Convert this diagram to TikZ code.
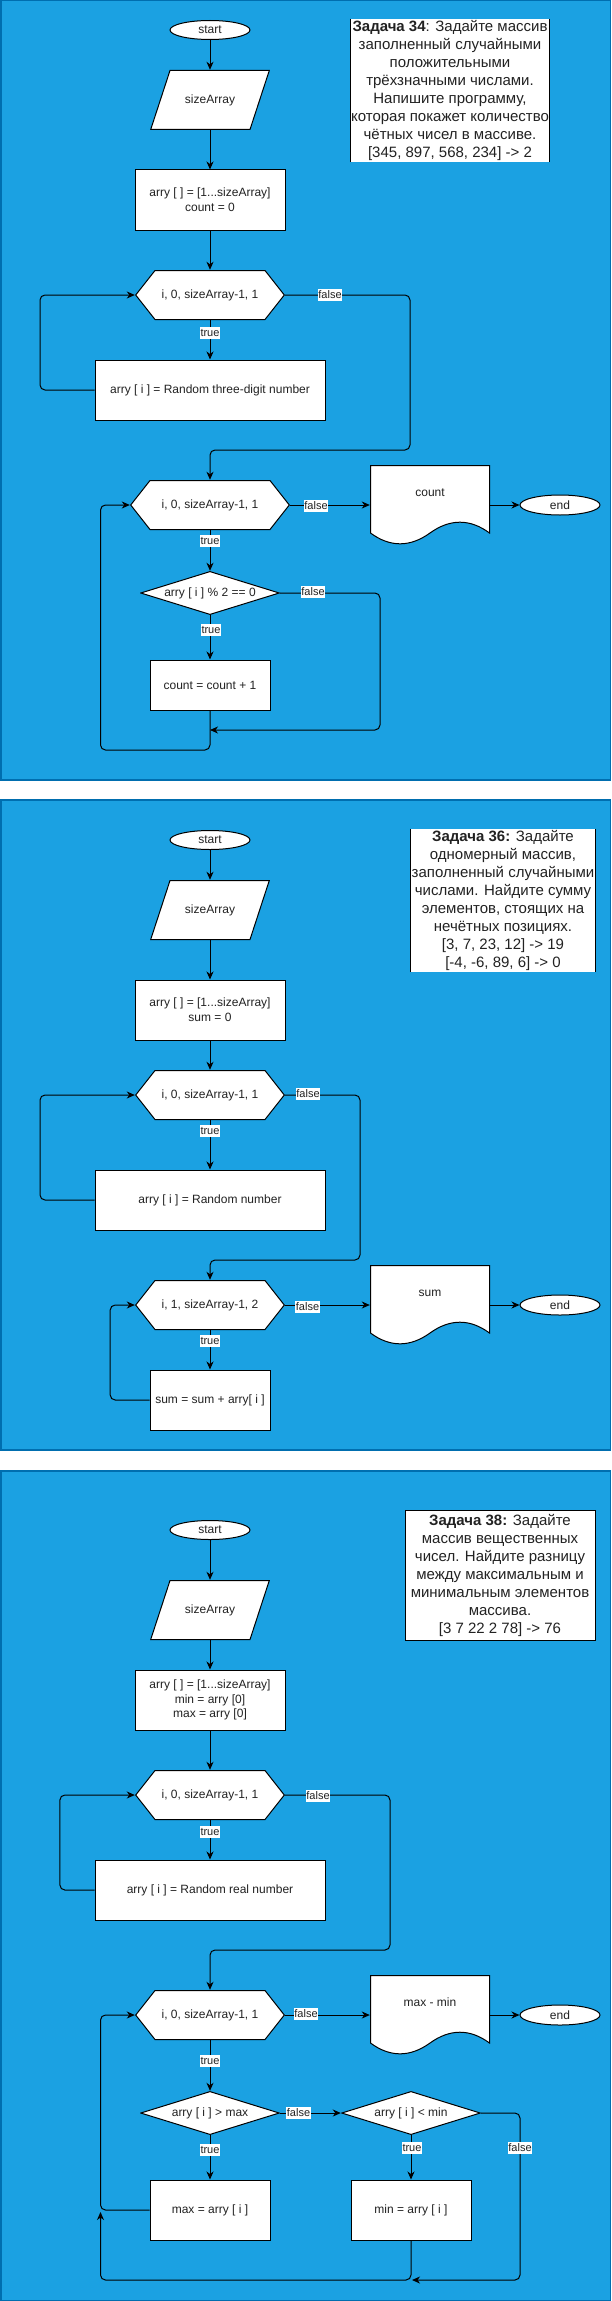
\documentclass[tikz,border=0pt]{standalone}
\usepackage{fontspec}
\setmainfont{Liberation Sans}
\usetikzlibrary{shapes.geometric,arrows.meta}
\definecolor{panelfill}{HTML}{1BA1E2}
\definecolor{panelline}{HTML}{006EAF}
\definecolor{txt}{HTML}{222222}
\newcommand\ppbb{path picture bounding box}
\tikzset{
 base/.style={text=txt, font=\fontsize{12}{15}\selectfont, align=center, inner sep=0pt},
 proc/.style={base, draw=black, fill=white, line width=1pt},
 term/.style={base, ellipse, draw=black, fill=white, line width=1pt, minimum width=80pt, minimum height=19pt},
 shp/.style={draw=black, fill=white, line width=1pt},
 hexa/.style={base, fill=panelfill, minimum height=50pt, path picture={
   \filldraw[shp] ([xshift=0.7pt]\ppbb.west) -- ([xshift=20pt,yshift=-0.5pt]\ppbb.north west)
     -- ([xshift=-20pt,yshift=-0.5pt]\ppbb.north east) -- ([xshift=-0.7pt]\ppbb.east)
     -- ([xshift=-20pt,yshift=0.5pt]\ppbb.south east) -- ([xshift=20pt,yshift=0.5pt]\ppbb.south west) -- cycle;}},
 para/.style={base, fill=panelfill, minimum width=120pt, minimum height=60pt, path picture={
   \filldraw[shp] ([xshift=20pt,yshift=-0.5pt]\ppbb.north west) -- ([xshift=-0.7pt,yshift=-0.5pt]\ppbb.north east)
     -- ([xshift=-20pt,yshift=0.5pt]\ppbb.south east) -- ([xshift=0.7pt,yshift=0.5pt]\ppbb.south west) -- cycle;}},
 dia/.style={base, fill=panelfill, minimum width=140pt, minimum height=44pt, path picture={
   \filldraw[shp] ([xshift=0.8pt]\ppbb.west) -- ([yshift=-0.6pt]\ppbb.north)
     -- ([xshift=-0.8pt]\ppbb.east) -- ([yshift=0.6pt]\ppbb.south) -- cycle;}},
 doc/.style={base, fill=panelfill, minimum width=120pt, minimum height=80pt, text height=9pt, text depth=27pt, path picture={
   \filldraw[shp] ([xshift=0.5pt,yshift=-0.5pt]\ppbb.north west) -- ([xshift=-0.5pt,yshift=-0.5pt]\ppbb.north east)
     -- ([xshift=119.5pt,yshift=-68pt]\ppbb.north west)
     .. controls ([xshift=100pt,yshift=-53.6pt]\ppbb.north west) and ([xshift=80pt,yshift=-53.6pt]\ppbb.north west)
     .. ([xshift=60pt,yshift=-68pt]\ppbb.north west)
     .. controls ([xshift=40pt,yshift=-82.4pt]\ppbb.north west) and ([xshift=20pt,yshift=-82.4pt]\ppbb.north west)
     .. ([xshift=0.5pt,yshift=-68pt]\ppbb.north west) -- cycle;}},
 task/.style={fill=white, text=txt, font=\fontsize{15}{18}\selectfont, align=center, inner sep=0pt},
 tline/.style={draw=black, line width=1pt},
 lbl/.style={fill=white, text=txt, font=\fontsize{11}{13}\selectfont, inner xsep=0.5pt, inner ysep=1pt, text height=8.5pt, text depth=1.5pt},
 conn/.style={draw=black, line width=1pt, rounded corners=5pt, -{Stealth[length=8pt,width=7pt,inset=2.5pt]}},
 panel/.style={fill=panelfill, draw=panelline, line width=1.5pt},
}
\begin{document}
\begin{tikzpicture}[x=1pt,y=-1pt]
\useasboundingbox (0,0) rectangle (611,2301);
\draw[panel] (0.75,0.75) rectangle (610.25,780);
\draw[panel] (0.75,800) rectangle (610.25,1450);
\draw[panel] (0.75,1471) rectangle (610.25,2300.25);

% ---------------- Panel 1 ----------------
\node[term] (s1) at (210,30) {start};
\node[para] (p1) at (210,100) {sizeArray};
\node[proc, minimum width=150pt, minimum height=60pt] (i1) at (210,200) {arry [ ] = [1...sizeArray]\\count = 0};
\node[hexa, minimum width=150pt] (l1) at (210,295) {i, 0, sizeArray-1, 1};
\node[proc, minimum width=230pt, minimum height=60pt] (r1) at (210,390) {arry [ i ] = Random three-digit number};
\node[hexa, minimum width=160pt] (l2) at (210,505) {i, 0, sizeArray-1, 1};
\node[doc] (d1) at (430,505) {count};
\node[term, minimum height=20pt] (e1) at (560,505) {end};
\node[dia] (c1) at (210,593) {arry [ i ] \% 2 == 0};
\node[proc, minimum width=120pt, minimum height=50pt] (k1) at (210,685) {count = count + 1};
\node[task, minimum width=198pt, minimum height=143pt] (t1) at (450,90.5)
 {\textbf{Задача 34}: Задайте массив\\заполненный случайными\\положительными\\трёхзначными числами.\\Напишите программу,\\которая покажет количество\\чётных чисел в массиве.\\{}[345, 897, 568, 234] -> 2};
\draw[tline] (t1.north west) -- (t1.south west);
\draw[tline] (t1.north east) -- (t1.south east);

\draw[conn] (s1.south) -- (p1.north);
\draw[conn] (p1.south) -- (i1.north);
\draw[conn] (i1.south) -- (l1.north);
\draw[conn] (l1.south) -- (r1.north);
\draw[conn] (r1.west) -- ++(-54.5,0) |- (l1.west);
\draw[conn] (l1.east) -| (410,450) -| (l2.north);
\draw[conn] (l2.east) -- (d1.west);
\draw[conn] (d1.east) -- (e1.west);
\draw[conn] (l2.south) -- (c1.north);
\draw[conn] (c1.south) -- (k1.north);
\coordinate (j1) at (210,730);
\draw[conn] (c1.east) -| (380,730) -- (j1);
\draw[conn] (k1.south) |- (100.5,750) |- (l2.west);

\node[lbl] (a1) at (330,295) {false};
\node[lbl] (a2) at (210,332.5) {true};
\node[lbl] (a3) at (316,505.5) {false};
\node[lbl] (a4) at (210,541) {true};
\node[lbl] (a5) at (313,592) {false};
\node[lbl] (a6) at (211,630) {true};

% ---------------- Panel 2 ----------------
\node[term] (s2) at (210,840) {start};
\node[para] (p2) at (210,910) {sizeArray};
\node[proc, minimum width=150pt, minimum height=60pt] (i2) at (210,1010) {arry [ ] = [1...sizeArray]\\sum = 0};
\node[hexa, minimum width=150pt] (l3) at (210,1095) {i, 0, sizeArray-1, 1};
\node[proc, minimum width=230pt, minimum height=60pt] (r2) at (210,1200) {arry [ i ] = Random number};
\node[hexa, minimum width=150pt] (l4) at (210,1305) {i, 1, sizeArray-1, 2};
\node[doc] (d2) at (430,1305) {sum};
\node[term, minimum height=20pt] (e2) at (560,1305) {end};
\node[proc, minimum width=120pt, minimum height=60pt] (k2) at (210,1400) {sum = sum + arry[ i ]};
\node[task, minimum width=184pt, minimum height=143pt] (t2) at (503,900.5)
 {\textbf{Задача 36:} Задайте\\одномерный массив,\\заполненный случайными\\числами. Найдите сумму\\элементов, стоящих на\\нечётных позициях.\\{}[3, 7, 23, 12] -> 19\\{}[-4, -6, 89, 6] -> 0};
\draw[tline] (t2.north west) -- (t2.south west);
\draw[tline] (t2.north east) -- (t2.south east);

\draw[conn] (s2.south) -- (p2.north);
\draw[conn] (p2.south) -- (i2.north);
\draw[conn] (i2.south) -- (l3.north);
\draw[conn] (l3.south) -- (r2.north);
\draw[conn] (r2.west) -- ++(-54.5,0) |- (l3.west);
\draw[conn] (l3.east) -| (360,1260) -| (l4.north);
\draw[conn] (l4.east) -- (d2.west);
\draw[conn] (d2.east) -- (e2.west);
\draw[conn] (l4.south) -- (k2.north);
\draw[conn] (k2.west) -- ++(-39.3,0) |- (l4.west);

\node[lbl] (b1) at (308,1094) {false};
\node[lbl] (b2) at (210,1131) {true};
\node[lbl] (b3) at (307.5,1306.5) {false};
\node[lbl] (b4) at (210,1341) {true};

% ---------------- Panel 3 ----------------
\node[term] (s3) at (210,1530) {start};
\node[para] (p3) at (210,1610) {sizeArray};
\node[proc, minimum width=150pt, minimum height=60pt, font=\fontsize{12}{14.5}\selectfont] (i3) at (210,1700) {arry [ ] = [1...sizeArray]\\min = arry [0]\\max = arry [0]};
\node[hexa, minimum width=150pt] (l5) at (210,1795) {i, 0, sizeArray-1, 1};
\node[proc, minimum width=230pt, minimum height=60pt] (r3) at (210,1890) {arry [ i ] = Random real number};
\node[hexa, minimum width=150pt] (l6) at (210,2015) {i, 0, sizeArray-1, 1};
\node[doc] (d3) at (430,2015) {max - min};
\node[term, minimum height=20pt] (e3) at (560,2015) {end};
\node[dia] (c2) at (210,2113) {arry [ i ] > max};
\node[dia] (c3) at (411,2113) {arry [ i ] < min};
\node[proc, minimum width=120pt, minimum height=60pt] (mx) at (210,2210) {max = arry [ i ]};
\node[proc, minimum width=120pt, minimum height=60pt] (mn) at (411,2210) {min = arry [ i ]};
\node[task, draw=black, line width=1pt, minimum width=190pt, minimum height=130pt] (t3) at (500,1575)
 {\textbf{Задача 38:} Задайте\\массив вещественных\\чисел. Найдите разницу\\между максимальным и\\минимальным элементов\\массива.\\{}[3 7 22 2 78] -> 76};

\draw[conn] (s3.south) -- (p3.north);
\draw[conn] (p3.south) -- (i3.north);
\draw[conn] (i3.south) -- (l5.north);
\draw[conn] (l5.south) -- (r3.north);
\draw[conn] (r3.west) -- ++(-34.6,0) |- (l5.west);
\draw[conn] (l5.east) -| (390,1950) -| (l6.north);
\draw[conn] (l6.east) -- (d3.west);
\draw[conn] (d3.east) -- (e3.west);
\draw[conn] (l6.south) -- (c2.north);
\draw[conn] (c2.east) -- (c3.west);
\draw[conn] (c2.south) -- (mx.north);
\draw[conn] (c3.south) -- (mn.north);
\coordinate (j3) at (412,2280);
\coordinate (j4) at (100.5,2212);
\draw[conn] (c3.east) -| (520,2280) -- (j3);
\draw[conn] (mn.south) |- (100.5,2280) -- (j4);
\draw[conn] (mx.west) -- (100.5,2210) |- (l6.west);

\node[lbl] (g1) at (318,1796) {false};
\node[lbl] (g2) at (210,1832) {true};
\node[lbl] (g3) at (306,2014) {false};
\node[lbl] (g4) at (210,2061) {true};
\node[lbl] (g5) at (298.5,2113) {false};
\node[lbl] (g6) at (210,2150) {true};
\node[lbl] (g7) at (412,2148) {true};
\node[lbl] (g8) at (520,2148) {false};
\end{tikzpicture}
\end{document}
